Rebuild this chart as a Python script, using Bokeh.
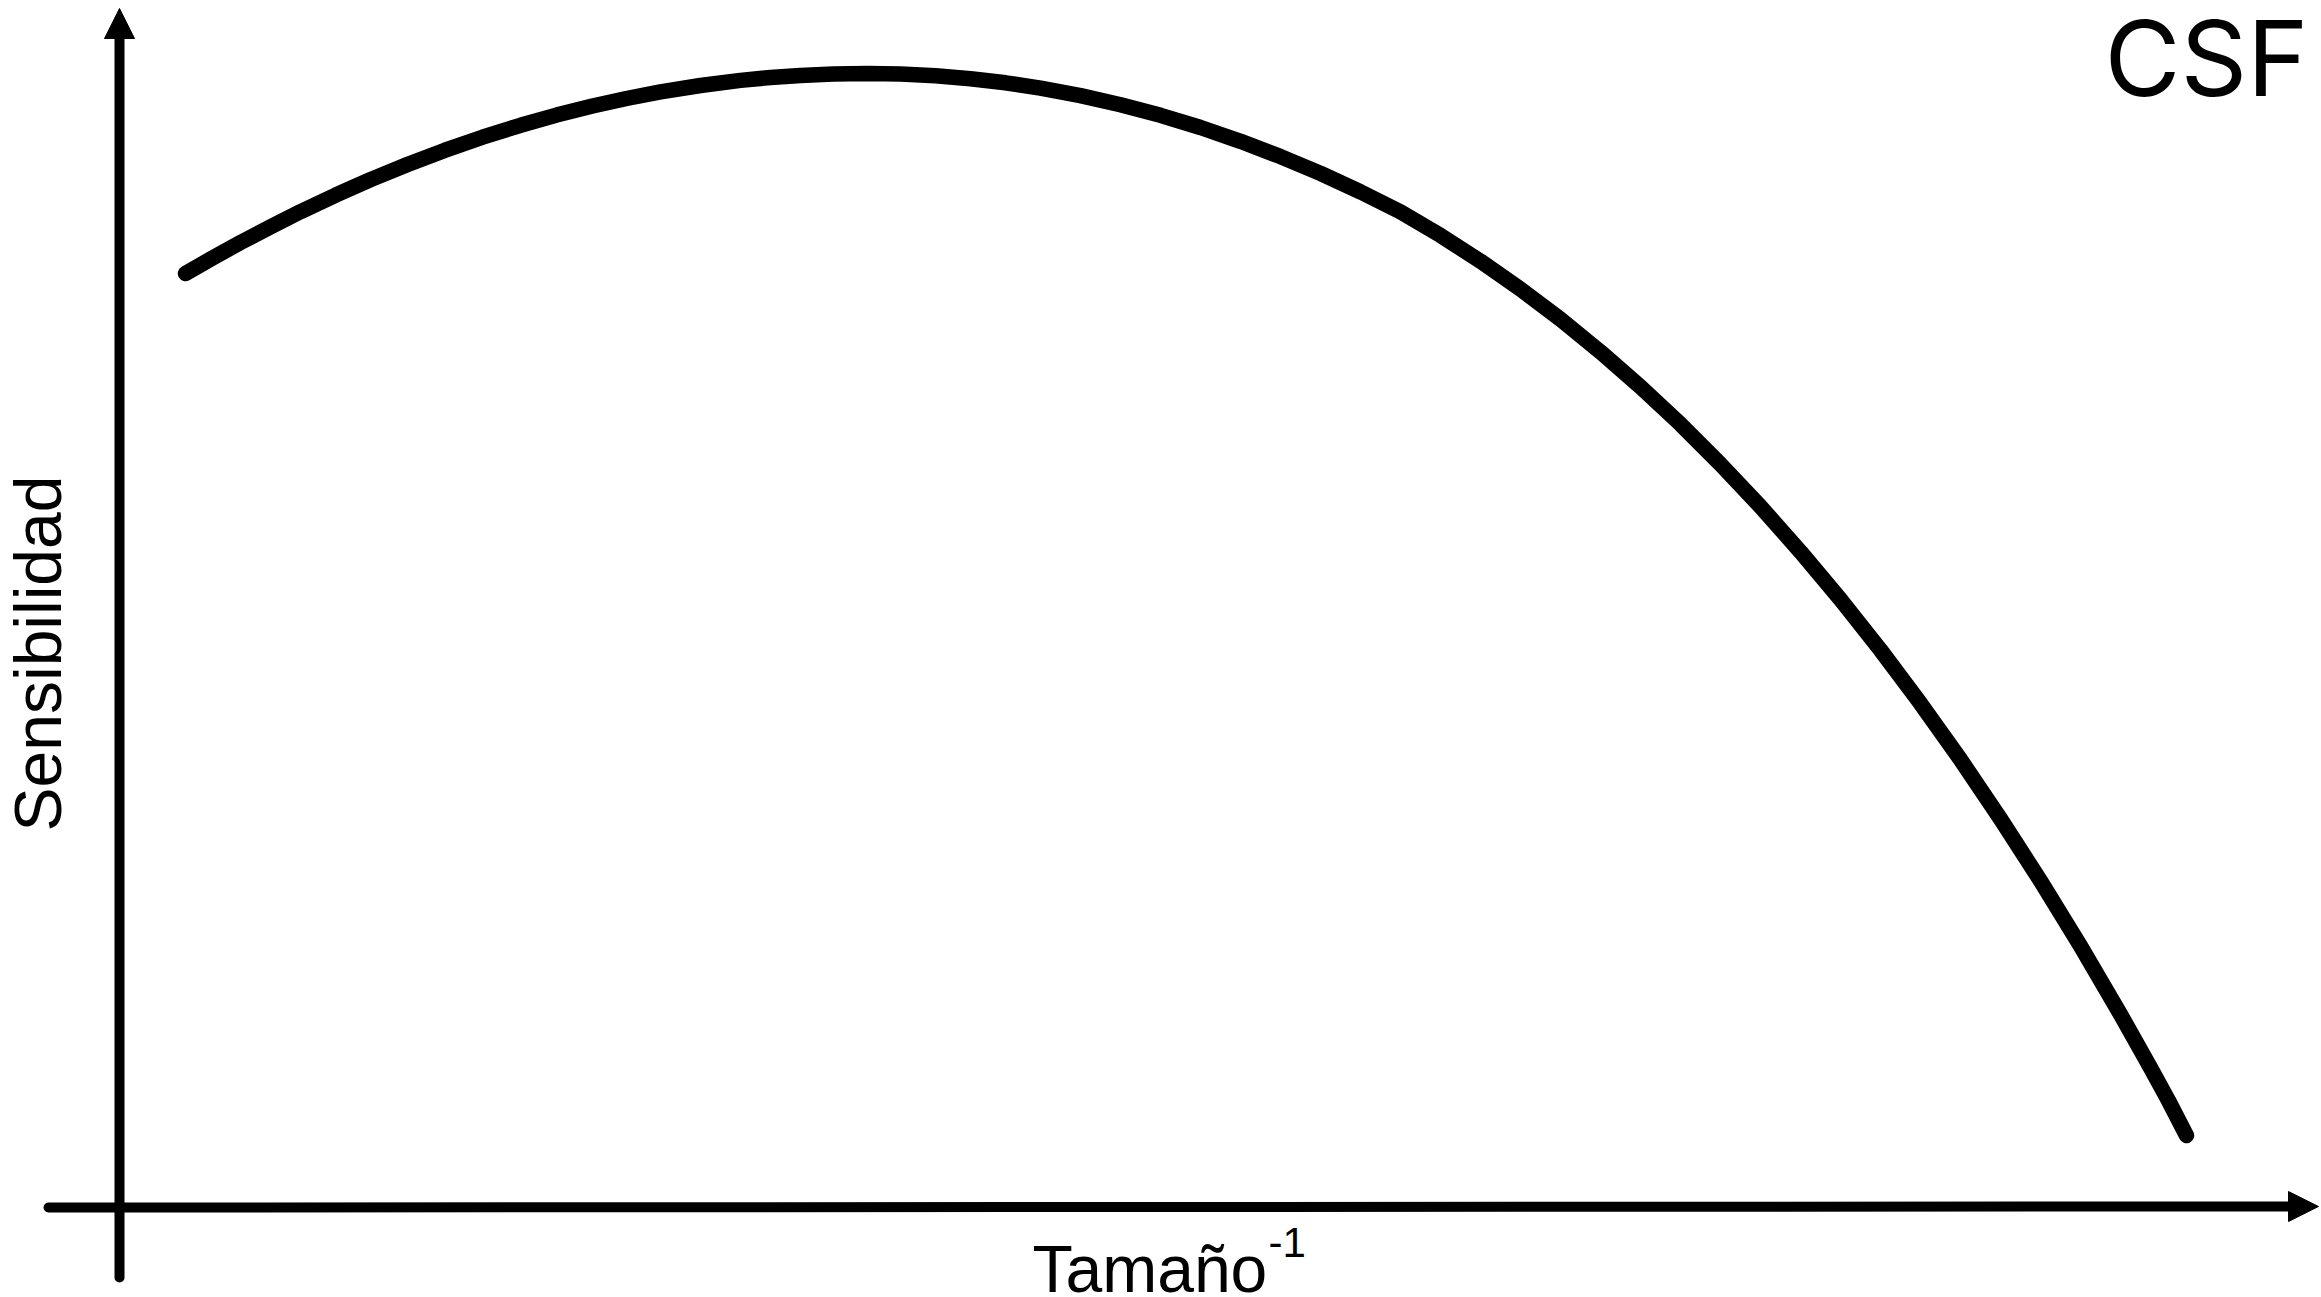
import math
from bokeh.plotting import figure
from bokeh.models import Range1d, Arrow, NormalHead, Label
from bokeh.embed import file_html
from bokeh.resources import INLINE

# ---- data (arbitrary units) ----
tamano_inv = [0.66, 0.93, 1.21, 1.51, 1.81, 2.16, 2.51, 2.88, 3.25, 3.63, 4.01,
              4.37, 4.73, 5.07, 5.41, 5.81, 6.21, 6.51, 6.81, 7.14, 7.48,
              7.81, 8.16, 8.51, 8.86, 9.21, 9.61, 10.01, 10.41, 10.81, 11.21,
              11.61, 12.01, 12.41, 12.81, 13.21, 13.61, 14.01, 14.41, 14.81,
              15.21, 15.61, 16.01, 16.41, 16.81, 17.21, 17.61, 18.01, 18.41,
              18.81, 19.21, 19.61, 20.01, 20.31, 20.49, 20.67]
sensibilidad = [9.34, 9.495, 9.65, 9.807, 9.958, 10.123, 10.278, 10.43, 10.571, 10.703, 10.822,
                10.924, 11.015, 11.09, 11.156, 11.22, 11.271, 11.30, 11.321, 11.335, 11.34,
                11.335, 11.317, 11.288, 11.247, 11.194, 11.119, 11.028, 10.922, 10.80, 10.662,
                10.509, 10.341, 10.156, 9.956, 9.721, 9.463, 9.184, 8.882, 8.556,
                8.207, 7.833, 7.433, 7.009, 6.557, 6.08, 5.575, 5.041, 4.479,
                3.887, 3.266, 2.615, 1.931, 1.398, 1.069, 0.72]

x_label = "Tamaño"
x_label_sup = "-1"
y_label = "Sensibilidad"
title_text = "CSF"

W, H = 2321, 1297
p = figure(width=W, height=H, output_backend="svg", toolbar_location=None,
           x_range=Range1d(-1.19, 22.02), y_range=Range1d(-0.90, 12.07),
           min_border=0, min_border_left=0, min_border_right=0,
           min_border_top=0, min_border_bottom=0)
p.xaxis.visible = False
p.yaxis.visible = False
p.grid.visible = False
p.outline_line_color = None
p.background_fill_color = "white"
p.border_fill_color = "white"

# axis lines (round ends) + arrow heads
p.segment(x0=[0, -0.71], y0=[-0.70, 0.0], x1=[0, 21.84], y1=[11.84, 0.01],
          line_width=10, line_color="black", line_cap="round")
p.add_layout(Arrow(end=NormalHead(size=30, fill_color="black", line_color="black", line_width=1),
                   x_start=0, y_start=11.5, x_end=0, y_end=11.99,
                   line_alpha=0, line_width=1))
p.add_layout(Arrow(end=NormalHead(size=30, fill_color="black", line_color="black", line_width=1),
                   x_start=21.5, y_start=0.01, x_end=21.99, y_end=0.01,
                   line_alpha=0, line_width=1))

# curve
p.line(tamano_inv, sensibilidad, line_width=15.5, line_color="black",
       line_cap="round", line_join="round")

# texts (anchor offsets compensate Bokeh's label baseline placement)
p.add_layout(Label(x=21.89, y=11.50, text=title_text, text_font="Inter",
                   text_font_size="104px", text_align="right",
                   text_baseline="alphabetic", text_color="black"))
p.add_layout(Label(x=9.13, y=-0.61, text=x_label, text_font="Liberation Sans",
                   text_font_size="66px", text_align="left",
                   text_baseline="alphabetic", text_color="black"))
p.add_layout(Label(x=11.49, y=-0.35, text=x_label_sup, text_font="Liberation Sans",
                   text_font_size="42px", text_align="left",
                   text_baseline="alphabetic", text_color="black"))
p.add_layout(Label(x=-0.82, y=5.54, text=y_label, text_font="Liberation Sans",
                   text_font_size="66px", text_align="center", angle=math.pi / 2,
                   text_baseline="alphabetic", text_color="black"))

open("out.html", "w").write(file_html(p, INLINE))
